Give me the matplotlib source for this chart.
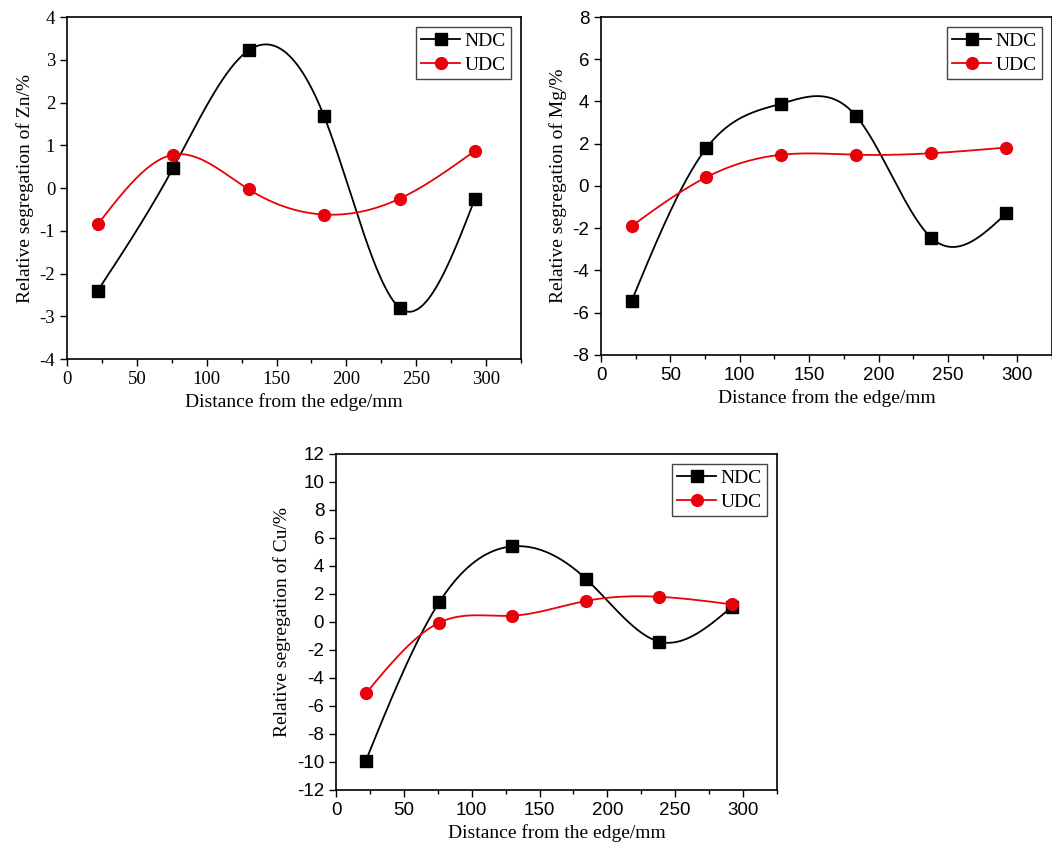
import numpy as np
import matplotlib
matplotlib.use('Agg')
import matplotlib.pyplot as plt

plt.rcParams['axes.unicode_minus'] = False

# distance from the edge (mm)
distance = [22, 76, 130, 184, 238, 292]

zn_ndc = [-2.40, 0.47, 3.22, 1.68, -2.80, -0.25]
zn_udc = [-0.85, 0.78, -0.03, -0.62, -0.25, 0.87]

mg_ndc = [-5.45, 1.80, 3.90, 3.30, -2.45, -1.30]
mg_udc = [-1.90, 0.42, 1.48, 1.48, 1.55, 1.82]

cu_ndc = [-9.90, 1.40, 5.40, 3.10, -1.40, 1.10]
cu_udc = [-5.10, -0.05, 0.45, 1.50, 1.80, 1.25]

serif = 'Liberation Serif'
sans = 'Liberation Sans'


def natural_spline(x, y, n=300):
    # natural cubic spline through the points, for the smooth connecting line
    x = np.asarray(x, float)
    y = np.asarray(y, float)
    k = len(x)
    h = np.diff(x)
    A = np.zeros((k, k))
    b = np.zeros(k)
    A[0, 0] = 1
    A[-1, -1] = 1
    for i in range(1, k - 1):
        A[i, i - 1] = h[i - 1]
        A[i, i] = 2 * (h[i - 1] + h[i])
        A[i, i + 1] = h[i]
        b[i] = 3 * ((y[i + 1] - y[i]) / h[i] - (y[i] - y[i - 1]) / h[i - 1])
    c = np.linalg.solve(A, b)
    xs = np.linspace(x[0], x[-1], n)
    idx = np.clip(np.searchsorted(x, xs) - 1, 0, k - 2)
    dx = xs - x[idx]
    hi = h[idx]
    bi = (y[idx + 1] - y[idx]) / hi - hi * (2 * c[idx] + c[idx + 1]) / 3
    di = (c[idx + 1] - c[idx]) / (3 * hi)
    ys = y[idx] + bi * dx + c[idx] * dx ** 2 + di * dx ** 3
    return xs, ys


def draw_panel(ax, ndc, udc, element, ylim, ystep, tickfont):
    for vals, color, marker, label in [(ndc, 'black', 's', 'NDC'),
                                       (udc, '#e8000b', 'o', 'UDC')]:
        xs, ys = natural_spline(distance, vals)
        ax.plot(xs, ys, color=color, lw=1.3)
        ax.plot(distance, vals, color=color, ls='none', marker=marker,
                markersize=8.5)
        # legend handle with line + marker
        ax.plot([], [], color=color, marker=marker, markersize=8.5, lw=1.3,
                label=label)

    ax.set_xlim(0, 325)
    ax.set_ylim(*ylim)
    ax.set_xticks(np.arange(0, 301, 50))
    ax.set_xticks(np.arange(25, 326, 50), minor=True)
    ax.set_yticks(np.arange(ylim[0], ylim[1] + 0.1, ystep))
    ax.tick_params(which='major', direction='out', length=5, width=1,
                   top=False, right=False, labelsize=13.5)
    ax.tick_params(which='minor', direction='out', length=3, width=1,
                   top=False, right=False)
    for lab in ax.get_xticklabels() + ax.get_yticklabels():
        lab.set_fontfamily(tickfont)
    for sp in ax.spines.values():
        sp.set_linewidth(1.2)

    ax.set_xlabel('Distance from the edge/mm', fontsize=14, family=serif)
    ax.set_ylabel('Relative segregation of %s/%%' % element, fontsize=14,
                  family=serif)
    leg = ax.legend(loc='upper right', prop={'family': serif, 'size': 14},
                    fancybox=False, edgecolor='#444444', framealpha=1,
                    handlelength=2.0, handletextpad=0.2, borderpad=0.3,
                    labelspacing=0.3)
    leg.get_frame().set_linewidth(1.0)


fig = plt.figure(figsize=(10.52, 8.5), dpi=100)

ax1 = fig.add_axes([0.0637, 0.5776, 0.4316, 0.4024])
draw_panel(ax1, zn_ndc, zn_udc, 'Zn', (-4, 4), 1, serif)

ax2 = fig.add_axes([0.5713, 0.5824, 0.4287, 0.3976])
draw_panel(ax2, mg_ndc, mg_udc, 'Mg', (-8, 8), 2, sans)

ax3 = fig.add_axes([0.3194, 0.0706, 0.4192, 0.3953])
draw_panel(ax3, cu_ndc, cu_udc, 'Cu', (-12, 12), 2, sans)

fig.savefig('out.png', dpi=100)
